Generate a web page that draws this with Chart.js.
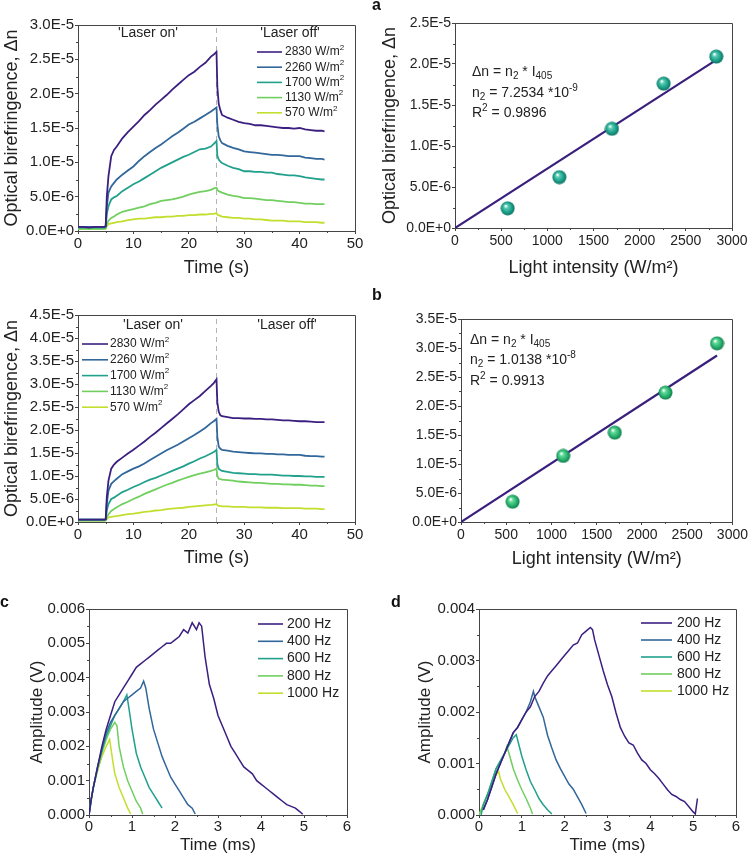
<!DOCTYPE html>
<html>
<head>
<meta charset="utf-8">
<script src="https://cdn.jsdelivr.net/npm/chart.js@4.4.1/dist/chart.umd.min.js"></script>
<style>
  body { margin: 0; background: #fff; }
  #wrap { position: relative; width: 750px; height: 856px; background: #fff; overflow: hidden; }
  canvas { position: absolute; }
  .tag { position: absolute; font: bold 16px 'Liberation Sans', Arial, sans-serif; color: #111; line-height: 16px; }
</style>
</head>
<body>
<div id="wrap">
  <canvas id="pA"></canvas>
  <canvas id="pa"></canvas>
  <canvas id="pC"></canvas>
  <canvas id="pb"></canvas>
  <canvas id="pc"></canvas>
  <canvas id="pd"></canvas>
  <div class="tag" style="left:372px;top:-3px">a</div>
  <div class="tag" style="left:372px;top:287px">b</div>
  <div class="tag" style="left:0px;top:594px">c</div>
  <div class="tag" style="left:391px;top:594px">d</div>
</div>
<script>
// ---- data (birefringence in units of 1E-6) ----
const tA = [0,1,2,3,4,4.8,5,5.2,5.5,6,6.5,7,8,9,10,11,12,13,14,15,16,17,18,19,20,21,22,23,24,24.5,25,25.15,25.4,25.7,26,27,28,29,30,31,32,33,34,35,36,37,38,39,40,41,42,43,44,44.5];

const top2830 = [0.6,0.6,0.5,0.6,0.6,0.6,0.7,5.0,8.0,10.9,11.8,12.3,13.5,14.4,15.2,16.0,16.9,17.6,18.4,19.1,19.8,20.6,21.3,22.0,22.7,23.2,23.9,24.5,25.4,25.7,26.1,21.0,18.5,17.6,16.9,16.5,16.2,15.9,15.7,15.6,15.4,15.4,15.3,15.2,15.1,15.0,15.0,14.9,15.0,14.8,14.7,14.6,14.6,14.5];
const top2260 = [0.6,0.6,0.6,0.6,0.6,0.6,0.7,3.5,5.6,6.5,7.0,7.5,8.2,8.8,9.4,10.2,10.9,11.5,12.1,12.6,13.2,13.8,14.3,14.9,15.5,15.9,16.4,16.9,17.4,17.7,18.0,15.5,13.8,13.2,12.8,12.4,12.1,11.9,11.6,11.5,11.4,11.3,11.2,11.1,11.1,11.0,10.9,10.9,10.9,10.7,10.6,10.5,10.5,10.4];
const top1700 = [0.5,0.5,0.5,0.5,0.5,0.5,0.6,2.5,3.6,4.6,4.9,5.1,5.8,6.3,6.8,7.2,7.7,8.2,8.7,9.2,9.6,10.0,10.4,10.8,11.1,11.5,11.9,12.0,12.3,12.7,13.1,11.0,10.4,10.1,9.9,9.5,9.2,9.0,8.7,8.7,8.6,8.6,8.5,8.5,8.3,8.2,8.1,8.1,8.0,7.8,7.7,7.6,7.5,7.5];
const top1130 = [0.3,0.3,0.3,0.3,0.3,0.3,0.35,1.0,1.5,1.9,2.1,2.4,2.8,3.0,3.2,3.4,3.6,3.9,4.1,4.4,4.5,4.6,4.8,5.0,5.3,5.5,5.7,5.8,6.0,6.2,6.3,6.0,5.8,5.7,5.6,5.3,5.1,5.0,4.8,4.8,4.7,4.6,4.5,4.5,4.4,4.3,4.2,4.2,4.1,4.0,4.0,3.9,3.9,3.9];
const top570 = [0.3,0.3,0.3,0.3,0.3,0.3,0.35,0.7,1.0,1.1,1.2,1.3,1.4,1.6,1.7,1.8,1.8,1.9,2.0,2.0,2.1,2.1,2.2,2.2,2.3,2.3,2.4,2.4,2.5,2.5,2.6,2.4,2.3,2.2,2.1,2.0,1.9,1.9,1.8,1.8,1.7,1.7,1.6,1.5,1.5,1.5,1.4,1.4,1.4,1.3,1.3,1.3,1.2,1.2];

const mid2830 = [0.5,0.5,0.5,0.5,0.5,0.5,0.6,5.5,9.0,11.6,12.5,13.1,14.0,14.9,15.7,16.6,17.5,18.5,19.4,20.4,21.4,22.4,23.4,24.5,25.6,26.5,27.4,28.5,29.6,30.2,31.0,26.0,24.0,23.2,23.0,22.8,22.6,22.6,22.5,22.5,22.4,22.4,22.3,22.3,22.2,22.1,22.1,22.0,21.9,21.9,21.8,21.7,21.7,21.7];
const mid2260 = [0.5,0.5,0.5,0.5,0.5,0.5,0.6,4.0,6.8,8.3,8.9,9.4,10.4,11.0,11.6,12.1,12.7,13.5,14.2,14.9,15.6,16.2,16.8,17.5,18.2,18.9,19.7,20.5,21.5,21.9,22.4,18.5,16.4,15.9,15.7,15.5,15.3,15.2,15.1,15.0,14.9,14.9,14.8,14.8,14.7,14.7,14.6,14.6,14.6,14.4,14.3,14.3,14.2,14.2];
const mid1700 = [0.5,0.5,0.5,0.5,0.5,0.5,0.5,2.5,3.9,5.0,5.3,5.7,6.5,7.0,7.6,8.1,8.7,9.2,9.6,10.1,10.6,11.1,11.6,12.1,12.7,13.2,13.8,14.3,14.9,15.2,15.7,12.6,11.6,11.3,11.1,10.9,10.7,10.6,10.5,10.4,10.4,10.3,10.3,10.3,10.2,10.1,10.1,10.0,10.0,9.9,9.9,9.8,9.8,9.8];
const mid1130 = [0.3,0.3,0.3,0.3,0.3,0.3,0.4,1.1,1.7,2.4,2.8,3.2,3.9,4.4,5.0,5.5,6.1,6.6,7.1,7.6,8.1,8.5,9.0,9.4,9.8,10.2,10.5,10.8,11.1,11.3,11.6,10.0,9.4,9.3,9.2,9.1,9.0,8.8,8.7,8.6,8.5,8.5,8.4,8.3,8.3,8.2,8.2,8.1,8.1,8.0,7.9,7.9,7.8,7.8];
const mid570 = [0.3,0.3,0.3,0.3,0.3,0.3,0.3,0.6,1.0,1.1,1.2,1.3,1.5,1.7,1.8,2.0,2.2,2.3,2.5,2.6,2.8,2.9,3.0,3.1,3.3,3.4,3.5,3.6,3.7,3.8,3.9,3.7,3.5,3.5,3.4,3.4,3.3,3.3,3.3,3.2,3.2,3.2,3.1,3.1,3.1,3.0,3.0,3.0,3.0,2.9,2.9,2.9,2.8,2.8];

const intensity = [570, 1130, 1700, 2260, 2830];
const peakA = [2.4, 6.2, 12.1, 17.6, 20.9];
const peakB = [3.5, 11.4, 15.4, 22.3, 30.8];
const fitA = [[0, 0], [2830, 20.5]];
const fitB = [[0, 0], [2830, 28.7]];

const intLabels = ['2830 W/m^{2}', '2260 W/m^{2}', '1700 W/m^{2}', '1130 W/m^{2}', '570 W/m^{2}'];
const freqLabels = ['200 Hz', '400 Hz', '600 Hz', '800 Hz', '1000 Hz'];
const yTicksTop = ['0.0E+0','5.0E-6','1.0E-5','1.5E-5','2.0E-5','2.5E-5','3.0E-5','3.5E-5','4.0E-5','4.5E-5'];

// amplitude traces, time in ms, amplitude in V
const c200t = [0,0.05,0.1,0.2,0.3,0.4,0.5,0.6,0.7,0.8,0.9,1.0,1.1,1.2,1.3,1.4,1.5,1.6,1.7,1.8,1.9,2.0,2.1,2.2,2.3,2.4,2.5,2.56,2.62,2.7,2.8,2.9,3.0,3.1,3.2,3.3,3.4,3.5,3.6,3.7,3.8,3.9,4.0,4.1,4.2,4.3,4.4,4.5,4.6,4.7,4.8,4.9,4.97];
const c200v = [0,0.00045,0.0008,0.0014,0.0020,0.0025,0.0029,0.0033,0.0035,0.0037,0.0039,0.0041,0.0043,0.0044,0.0045,0.0046,0.0047,0.0048,0.0049,0.0050,0.0050,0.0051,0.0052,0.0054,0.0053,0.0056,0.0054,0.0056,0.0055,0.0046,0.0038,0.0034,0.0029,0.0026,0.0023,0.0020,0.0018,0.0016,0.0014,0.0013,0.0012,0.0010,0.0009,0.0008,0.0007,0.0006,0.0005,0.0004,0.0003,0.00025,0.0002,0.0001,0.00002];
const c400t = [0,0.05,0.1,0.2,0.3,0.4,0.5,0.6,0.7,0.8,0.9,1.0,1.1,1.2,1.27,1.32,1.4,1.5,1.6,1.7,1.8,1.9,2.0,2.1,2.2,2.3,2.4,2.47];
const c400v = [0,0.00045,0.0008,0.0014,0.0019,0.0024,0.0027,0.0029,0.0031,0.0033,0.0034,0.0035,0.0036,0.0037,0.0039,0.0037,0.0031,0.0025,0.0021,0.0017,0.0014,0.0011,0.0009,0.0007,0.0005,0.0003,0.0002,0.00003];
const c600t = [0,0.05,0.1,0.2,0.3,0.4,0.5,0.6,0.7,0.8,0.88,0.93,1.0,1.1,1.2,1.3,1.4,1.5,1.6,1.7];
const c600v = [0,0.00045,0.0008,0.0014,0.0019,0.0023,0.0026,0.0029,0.0031,0.0033,0.0035,0.0031,0.0025,0.0018,0.0014,0.0011,0.0008,0.0006,0.0004,0.0002];
const c800t = [0,0.05,0.1,0.2,0.3,0.4,0.5,0.6,0.65,0.7,0.8,0.9,1.0,1.1,1.2,1.25];
const c800v = [0,0.00045,0.0008,0.0013,0.0018,0.0022,0.0025,0.0027,0.0026,0.0020,0.0014,0.0010,0.0007,0.0004,0.0002,0.00003];
const c1000t = [0,0.05,0.1,0.2,0.3,0.4,0.48,0.55,0.6,0.7,0.8,0.9,0.97];
const c1000v = [0,0.0004,0.0008,0.0013,0.0017,0.0020,0.0022,0.0016,0.0012,0.0008,0.0005,0.0002,0.00003];

const d200t = [0.1,0.2,0.3,0.4,0.5,0.6,0.7,0.8,0.9,1.0,1.1,1.2,1.3,1.4,1.5,1.6,1.7,1.8,1.9,2.0,2.1,2.2,2.3,2.4,2.5,2.6,2.65,2.7,2.8,2.9,3.0,3.1,3.2,3.3,3.4,3.5,3.6,3.7,3.8,3.9,4.0,4.1,4.2,4.3,4.4,4.5,4.6,4.7,4.8,4.9,5.0,5.05,5.1];
const d200v = [0.0001,0.0003,0.00055,0.0008,0.0010,0.0012,0.0014,0.0016,0.0017,0.00185,0.0020,0.0021,0.0023,0.0024,0.00256,0.0027,0.0028,0.0029,0.0030,0.0031,0.0032,0.0033,0.00334,0.0035,0.00357,0.00364,0.0036,0.0034,0.0031,0.0028,0.00253,0.0023,0.00198,0.0017,0.00153,0.0014,0.00136,0.0012,0.00107,0.0010,0.00088,0.0008,0.00071,0.0006,0.00049,0.0004,0.00036,0.0003,0.00026,0.00016,0.00006,0.00002,0.00032];
const d400t = [0.1,0.2,0.3,0.4,0.5,0.6,0.7,0.8,0.9,1.0,1.1,1.2,1.27,1.3,1.4,1.5,1.6,1.7,1.8,1.9,2.0,2.1,2.2,2.3,2.4,2.5];
const d400v = [0.0001,0.0003,0.00055,0.0008,0.0010,0.0012,0.0014,0.0016,0.0017,0.00185,0.0020,0.0022,0.0024,0.0023,0.0021,0.0019,0.00155,0.0013,0.00107,0.0009,0.00075,0.0006,0.0005,0.00035,0.0002,0.00003];
const d600t = [0.05,0.1,0.2,0.3,0.4,0.5,0.6,0.7,0.8,0.87,0.95,1.0,1.1,1.2,1.3,1.4,1.5,1.6,1.7];
const d600v = [0,0.0002,0.0004,0.00065,0.0009,0.00105,0.0012,0.00135,0.0015,0.00156,0.0013,0.00114,0.00088,0.00065,0.00049,0.00032,0.0002,0.0001,0.00002];
const d800t = [0,0.1,0.2,0.3,0.4,0.5,0.6,0.65,0.7,0.8,0.9,1.0,1.1,1.2,1.25];
const d800v = [0,0.0002,0.0004,0.00065,0.0009,0.00105,0.0012,0.00133,0.0012,0.0009,0.00068,0.00049,0.00032,0.00013,0.00002];
const d1000t = [0,0.1,0.2,0.3,0.4,0.46,0.5,0.6,0.7,0.8,0.9];
const d1000v = [0,0.0002,0.0004,0.0006,0.00078,0.00084,0.0007,0.0005,0.00035,0.0002,0.00003];

const colors = ['#3b1f80', '#31679a', '#21a08c', '#71cf60', '#c3de2e'];
const FONT = "'Liberation Sans', Arial, sans-serif";

Chart.defaults.font.family = FONT;
Chart.defaults.color = '#222';

// ---- helpers ----
function pts(xs, ys) { return xs.map((x, i) => ({ x: x, y: ys[i] })); }

function trace(xs, ys, color, w) {
  return { data: pts(xs, ys), showLine: true, borderColor: color, borderWidth: w, pointRadius: 0, fill: false };
}

function dashAt(x, ymax) {
  return { data: [{ x: x, y: 0 }, { x: x, y: ymax }], showLine: true, borderColor: '#b4b4b4', borderWidth: 1, borderDash: [5, 4], pointRadius: 0 };
}

function ball(light, mid, dark) {
  const c = document.createElement('canvas');
  c.width = c.height = 15;
  const g = c.getContext('2d');
  const gr = g.createRadialGradient(5.5, 5, 0.5, 7.5, 7.5, 7.5);
  gr.addColorStop(0, '#ffffff');
  gr.addColorStop(0.22, light);
  gr.addColorStop(0.65, mid);
  gr.addColorStop(1, dark);
  g.fillStyle = gr;
  g.beginPath(); g.arc(7.5, 7.5, 7, 0, Math.PI * 2); g.fill();
  return c;
}

// text with _{sub} and ^{sup}
function runs(str) {
  const out = []; const re = /(\^|_)\{([^}]*)\}/g; let last = 0, m;
  while ((m = re.exec(str))) {
    if (m.index > last) out.push({ t: str.slice(last, m.index) });
    out.push({ t: m[2], s: m[1] === '^' ? 'sup' : 'sub' });
    last = re.lastIndex;
  }
  if (last < str.length) out.push({ t: str.slice(last) });
  return out;
}

function drawRich(ctx, x, y, str, size, align) {
  const rs = runs(str);
  ctx.textAlign = 'left'; ctx.textBaseline = 'middle';
  let w = 0;
  rs.forEach(r => { ctx.font = (r.s ? Math.round(size * 0.68) : size) + 'px ' + FONT; w += ctx.measureText(r.t).width; });
  let cx = align === 'center' ? x - w / 2 : x;
  rs.forEach(r => {
    const s = r.s ? Math.round(size * 0.68) : size;
    ctx.font = s + 'px ' + FONT;
    const dy = r.s === 'sub' ? size * 0.32 : r.s === 'sup' ? -size * 0.36 : 0;
    ctx.fillText(r.t, cx, y + dy);
    cx += ctx.measureText(r.t).width;
  });
}

// box top/right edges and minor ticks
const frame = {
  id: 'frame',
  afterDraw(chart) {
    const { ctx, chartArea: a, scales } = chart;
    ctx.save();
    ctx.strokeStyle = '#444'; ctx.lineWidth = 1;
    ctx.beginPath();
    ctx.moveTo(Math.round(a.left), Math.round(a.top) + 0.5);
    ctx.lineTo(Math.round(a.right) + 0.5, Math.round(a.top) + 0.5);
    ctx.lineTo(Math.round(a.right) + 0.5, Math.round(a.bottom));
    ctx.stroke();
    const xt = scales.x.ticks, yt = scales.y.ticks;
    ctx.beginPath();
    for (let i = 0; i < xt.length - 1; i++) {
      const px = Math.round(scales.x.getPixelForValue((xt[i].value + xt[i + 1].value) / 2)) + 0.5;
      ctx.moveTo(px, a.bottom); ctx.lineTo(px, a.bottom + 2);
    }
    for (let i = 0; i < yt.length - 1; i++) {
      const py = Math.round(scales.y.getPixelForValue((yt[i].value + yt[i + 1].value) / 2)) + 0.5;
      ctx.moveTo(a.left, py); ctx.lineTo(a.left - 2, py);
    }
    ctx.stroke();
    ctx.restore();
  }
};

function decor(d) {
  return {
    id: 'decor',
    afterDatasetsDraw(chart) {
      const { ctx, chartArea: a } = chart;
      ctx.save();
      ctx.fillStyle = '#222';
      if (d.legend) {
        const L = d.legend;
        L.labels.forEach((lab, i) => {
          const y = a.top + L.y + i * L.dy;
          ctx.strokeStyle = colors[i]; ctx.lineWidth = 1.6;
          ctx.beginPath(); ctx.moveTo(a.left + L.x0, y); ctx.lineTo(a.left + L.x1, y); ctx.stroke();
          drawRich(ctx, a.left + L.tx, y, lab, L.size, 'left');
        });
      }
      (d.texts || []).forEach(t => drawRich(ctx, a.left + t.x, a.top + t.y, t.s, t.size, t.align || 'left'));
      ctx.restore();
    }
  };
}

function axis(o, fit) {
  return {
    type: 'linear', min: o.min, max: o.max, afterFit: fit,
    ticks: { stepSize: o.step, font: { size: o.size }, color: '#222', padding: o.pad, maxRotation: 0, autoSkip: false, callback: o.cb },
    grid: { drawOnChartArea: false, drawTicks: true, tickLength: o.tl, color: '#444', tickColor: '#444' },
    border: { display: true, color: '#444', width: 1 },
    title: o.title
      ? { display: true, text: o.title, font: { size: o.tsize }, color: '#222', padding: { top: o.tpad, bottom: o.tpad } }
      : { display: false }
  };
}

function panel(id, box, plot, cfg) {
  const cv = document.getElementById(id);
  cv.style.left = box.x + 'px'; cv.style.top = box.y + 'px';
  cv.width = box.w; cv.height = box.h;
  return new Chart(cv, {
    type: 'scatter',
    data: { datasets: cfg.datasets },
    options: {
      responsive: false, animation: false, devicePixelRatio: 1,
      layout: { padding: { top: plot.t - box.y, right: box.x + box.w - plot.r, left: 0, bottom: 0 } },
      plugins: { legend: { display: false }, tooltip: { enabled: false } },
      scales: {
        x: axis(cfg.x, s => { s.height = box.y + box.h - plot.b; }),
        y: axis(cfg.y, s => { s.width = plot.l - box.x; })
      }
    },
    plugins: [frame, decor(cfg.decor)]
  });
}

const topSeries = [top2830, top2260, top1700, top1130, top570];
const midSeries = [mid2830, mid2260, mid1700, mid1130, mid570];
const yTopCb = v => yTicksTop[Math.round(v / 5)];
const intCb = v => String(v);

// ---- top left ----
panel('pA', { x: 0, y: 0, w: 370, h: 280 }, { l: 78, t: 25, r: 355, b: 231 }, {
  datasets: topSeries.map((s, i) => trace(tA, s, colors[i], 1.8)).concat([dashAt(25, 30)]),
  x: { min: 0, max: 50, step: 10, size: 15, pad: 1, tl: 3, title: 'Time (s)', tsize: 18, tpad: 1 },
  y: { min: 0, max: 30, step: 5, size: 15, pad: 1, tl: 3, cb: yTopCb, title: 'Optical birefringence, \u0394n', tsize: 18, tpad: 1 },
  decor: {
    legend: { labels: intLabels, x0: 179, x1: 204, tx: 207, y: 27, dy: 15.2, size: 12 },
    texts: [
      { x: 70, y: 8, s: "'Laser on'", size: 14, align: 'center' },
      { x: 212, y: 8, s: "'Laser off'", size: 14, align: 'center' }
    ]
  }
});

// ---- a ----
panel('pa', { x: 370, y: 0, w: 380, h: 280 }, { l: 455, t: 23, r: 732, b: 228 }, {
  datasets: [
    { data: pts(intensity, peakA), pointStyle: ball('#58cdb4', '#1a9e88', '#0c6a5b'), pointRadius: 7 },
    { data: fitA.map(p => ({ x: p[0], y: p[1] })), showLine: true, borderColor: '#3a1f7d', borderWidth: 2.2, pointRadius: 0 }
  ],
  x: { min: 0, max: 3000, step: 500, size: 14, pad: 2, tl: 3, cb: intCb, title: 'Light intensity (W/m\u00b2)', tsize: 18, tpad: 1 },
  y: { min: 0, max: 25, step: 5, size: 14, pad: 1, tl: 3, cb: yTopCb, title: 'Optical birefringence, \u0394n', tsize: 18, tpad: 9 },
  decor: {
    texts: [
      { x: 17, y: 49, s: '\u0394n = n_{2} * I_{405}', size: 14 },
      { x: 17, y: 70, s: 'n_{2} = 7.2534 *10^{-9}', size: 14 },
      { x: 17, y: 90, s: 'R^{2} = 0.9896', size: 14 }
    ]
  }
});

// ---- middle left ----
panel('pC', { x: 0, y: 280, w: 370, h: 290 }, { l: 78, t: 315, r: 355, b: 522 }, {
  datasets: midSeries.map((s, i) => trace(tA, s, colors[i], 1.8)).concat([dashAt(25, 45)]),
  x: { min: 0, max: 50, step: 10, size: 15, pad: 1, tl: 3, title: 'Time (s)', tsize: 18, tpad: 1 },
  y: { min: 0, max: 45, step: 5, size: 15, pad: 1, tl: 3, cb: yTopCb, title: 'Optical birefringence, \u0394n', tsize: 18, tpad: 1 },
  decor: {
    legend: { labels: intLabels, x0: 4, x1: 30, tx: 32, y: 29, dy: 15.8, size: 12 },
    texts: [
      { x: 75, y: 10, s: "'Laser on'", size: 14, align: 'center' },
      { x: 209, y: 10, s: "'Laser off'", size: 14, align: 'center' }
    ]
  }
});

// ---- b ----
panel('pb', { x: 370, y: 280, w: 380, h: 290 }, { l: 461, t: 319, r: 735, b: 522 }, {
  datasets: [
    { data: pts(intensity, peakB), pointStyle: ball('#62dc98', '#25ae6c', '#127548'), pointRadius: 7 },
    { data: fitB.map(p => ({ x: p[0], y: p[1] })), showLine: true, borderColor: '#3a1f7d', borderWidth: 2.2, pointRadius: 0 }
  ],
  x: { min: 0, max: 3000, step: 500, size: 14, pad: 2, tl: 3, cb: intCb, title: 'Light intensity (W/m\u00b2)', tsize: 18, tpad: 0 },
  y: { min: 0, max: 35, step: 5, size: 14, pad: 1, tl: 3, cb: yTopCb },
  decor: {
    texts: [
      { x: 9, y: 21, s: '\u0394n = n_{2} * I_{405}', size: 14 },
      { x: 9, y: 41, s: 'n_{2} = 1.0138 *10^{-8}', size: 14 },
      { x: 9, y: 62, s: 'R^{2} = 0.9913', size: 14 }
    ]
  }
});

// ---- c ----
const ampCb = v => v.toFixed(3);
panel('pc', { x: 0, y: 570, w: 375, h: 286 }, { l: 89, t: 609, r: 347, b: 815 }, {
  datasets: [
    trace(c200t, c200v, colors[0], 1.5), trace(c400t, c400v, colors[1], 1.5), trace(c600t, c600v, colors[2], 1.5),
    trace(c800t, c800v, colors[3], 1.5), trace(c1000t, c1000v, colors[4], 1.5)
  ],
  x: { min: 0, max: 6, step: 1, size: 15, pad: 0, tl: 3, title: 'Time (ms)', tsize: 17, tpad: 0 },
  y: { min: 0, max: 0.006, step: 0.001, size: 15, pad: 1, tl: 3, cb: ampCb, title: 'Amplitude (V)', tsize: 17, tpad: 27 },
  decor: { legend: { labels: freqLabels, x0: 169, x1: 194, tx: 198, y: 15, dy: 17.3, size: 14 } }
});

// ---- d ----
panel('pd', { x: 375, y: 570, w: 375, h: 286 }, { l: 479, t: 609, r: 736, b: 815 }, {
  datasets: [
    trace(d200t, d200v, colors[0], 1.5), trace(d400t, d400v, colors[1], 1.5), trace(d600t, d600v, colors[2], 1.5),
    trace(d800t, d800v, colors[3], 1.5), trace(d1000t, d1000v, colors[4], 1.5)
  ],
  x: { min: 0, max: 6, step: 1, size: 15, pad: 0, tl: 3, title: 'Time (ms)', tsize: 17, tpad: 0 },
  y: { min: 0, max: 0.004, step: 0.001, size: 15, pad: 1, tl: 3, cb: ampCb, title: 'Amplitude (V)', tsize: 17, tpad: 40 },
  decor: { legend: { labels: freqLabels, x0: 162, x1: 193, tx: 198, y: 14, dy: 17, size: 14 } }
});
</script>
</body>
</html>
